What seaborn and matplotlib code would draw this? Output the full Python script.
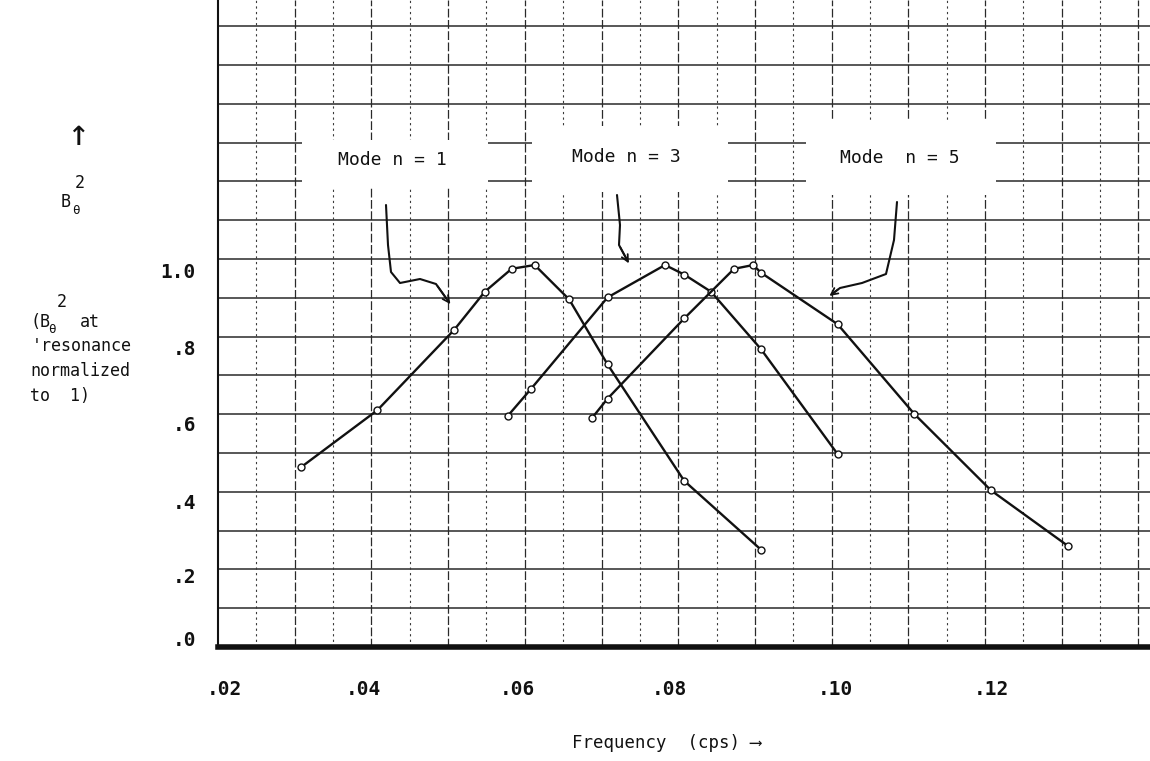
import numpy as np
import pandas as pd
import matplotlib
matplotlib.use("Agg")
import matplotlib.pyplot as plt
import matplotlib.transforms as mtransforms
from matplotlib.patches import Rectangle
import seaborn as sns

# ---------------- data ----------------
mode1_freq = [0.030, 0.040, 0.050, 0.054, 0.0575, 0.0605, 0.065, 0.070, 0.080, 0.090]
mode1_amp = [0.47, 0.62, 0.83, 0.93, 0.99, 1.00, 0.91, 0.74, 0.435, 0.255]
mode3_freq = [0.0570, 0.060, 0.070, 0.0775, 0.080, 0.0835, 0.090, 0.100]
mode3_amp = [0.605, 0.675, 0.915, 1.00, 0.975, 0.93, 0.78, 0.505]
mode5_freq = [0.068, 0.070, 0.080, 0.0865, 0.089, 0.090, 0.100, 0.110, 0.120, 0.130]
mode5_amp = [0.60, 0.65, 0.86, 0.99, 1.00, 0.98, 0.845, 0.61, 0.41, 0.265]

mode_labels = ["Mode n = 1", "Mode n = 3", "Mode  n = 5"]
x_ticks = [0.02, 0.04, 0.06, 0.08, 0.10, 0.12]
x_tick_labels = [".02", ".04", ".06", ".08", ".10", ".12"]
y_ticks = [0.0, 0.2, 0.4, 0.6, 0.8, 1.0]
y_tick_labels = [".0", ".2", ".4", ".6", ".8", "1.0"]

df = pd.concat([
    pd.DataFrame({"freq": mode1_freq, "amp": mode1_amp, "mode": "n=1"}),
    pd.DataFrame({"freq": mode3_freq, "amp": mode3_amp, "mode": "n=3"}),
    pd.DataFrame({"freq": mode5_freq, "amp": mode5_amp, "mode": "n=5"}),
])

sns.set_theme(style="white")
FONT = ["DejaVu Sans Mono", "DejaVu Sans"]
plt.rcParams["font.family"] = FONT
INK = "#111111"

W, H = 1150, 761
AX_L, AX_B = 218, 647          # pixel position of the axes corner
PX_X = 7670                    # pixels per unit frequency
PX_Y = 382                     # pixels per unit amplitude

fig = plt.figure(figsize=(W / 100, H / 100), dpi=100)
fig.patch.set_facecolor("white")
ax = fig.add_axes([AX_L / W, 1 - AX_B / H, (W - AX_L) / W, AX_B / H])
ax.set_facecolor("white")
x_lo = 0.02 + (AX_L - 224) / PX_X
x_hi = 0.02 + (W - 224) / PX_X
ax.set_xlim(x_lo, x_hi)
ax.set_ylim(0, AX_B / PX_Y)

FT = fig.transFigure


def fx(x):
    return x / W


def fy(y):
    return 1 - y / H


# ---------------- graph paper ----------------
gy = np.arange(0, AX_B / PX_Y, 38.8 / PX_Y)
for y in gy[1:]:
    ax.axhline(y, color="#2a2a2a", lw=1.1, zorder=0.5)
gx = np.arange(x_lo, x_hi, 0.005)
for i, x in enumerate(gx[1:], start=1):
    if i % 2 == 0:
        ax.axvline(x, color="#2a2a2a", lw=0.9, ls=(0, (7, 2)), zorder=0.5)
    else:
        ax.axvline(x, color="#3a3a3a", lw=0.8, ls=(0, (2, 3)), zorder=0.5)

# white label boxes (no grid under the typed labels)
for (x0, y0, x1, y1) in [(302, 140, 488, 188), (532, 126, 728, 192), (806, 120, 996, 195)]:
    ax.add_patch(Rectangle((fx(x0), fy(y1)), fx(x1) - fx(x0), fy(y0) - fy(y1),
                           transform=FT, facecolor="white", edgecolor="none", zorder=1))

# ---------------- curves ----------------
sns.lineplot(data=df, x="freq", y="amp", hue="mode", units="mode", estimator=None,
             sort=False, palette=[INK] * 3, linewidth=1.7, marker="o",
             markersize=5, markerfacecolor="white", markeredgecolor=INK,
             markeredgewidth=1.0, legend=False, ax=ax, zorder=3)

# ---------------- mode labels & arrows ----------------
for lab, (x, y) in zip(mode_labels, [(392, 160), (626, 157), (900, 158)]):
    fig.text(fx(x), fy(y), lab, ha="center", va="center", fontsize=13, color=INK, zorder=5)

arrows = [
    [(386, 205), (388, 245), (391, 272), (400, 283), (420, 279), (436, 284), (446, 298)],
    [(617, 195), (620, 225), (619, 245), (626, 258)],
    [(897, 202), (894, 240), (886, 274), (862, 283), (840, 288), (832, 294)],
]
for pts in arrows:
    xs = [fx(p[0]) for p in pts]
    ys = [fy(p[1]) for p in pts]
    ax.plot(xs, ys, transform=FT, color=INK, lw=1.5, zorder=4, clip_on=False)
    ax.annotate("", xy=(xs[-1] + (xs[-1] - xs[-2]) * 0.6, ys[-1] + (ys[-1] - ys[-2]) * 0.6),
                xytext=(xs[-2], ys[-2]), xycoords=FT, textcoords=FT,
                arrowprops=dict(arrowstyle="->", color=INK, lw=1.3), zorder=4)

# ---------------- axes styling ----------------
for s in ["top", "right"]:
    ax.spines[s].set_visible(False)
ax.spines["bottom"].set_linewidth(4)
ax.spines["bottom"].set_color(INK)
ax.spines["left"].set_linewidth(1.5)
ax.spines["left"].set_color(INK)

ax.set_xticks(x_ticks)
ax.set_xticklabels(x_tick_labels, fontsize=14, fontweight="bold", color=INK)
ax.set_yticks(y_ticks)
ax.set_yticklabels(y_tick_labels, fontsize=14, fontweight="bold", color=INK)
ax.tick_params(axis="x", length=0, pad=24)
ax.tick_params(axis="y", length=0, pad=16)
ax.set_xlabel("")
ax.set_ylabel("")
ax.grid(False)

# typed labels sit slightly off the true tick positions in the original
x_shift = [0, -14, -13, -15, -2, 0]
for lab, dx in zip(ax.get_xticklabels(), x_shift):
    lab.set_transform(lab.get_transform() + mtransforms.ScaledTranslation(dx / 100, 0, fig.dpi_scale_trans))
y_shift = [9, -5, -7, -6, -6, -6]
for lab, dy in zip(ax.get_yticklabels(), y_shift):
    lab.set_transform(lab.get_transform() + mtransforms.ScaledTranslation(0, dy / 100, fig.dpi_scale_trans))

fig.text(fx(572), fy(743), "Frequency  (cps) \u27f6", ha="left", va="center", fontsize=12.5, color=INK)

# y-axis label block
fig.text(fx(78), fy(135), "\u2191", ha="center", va="center", fontsize=26, color=INK)
fig.text(fx(80), fy(183), "2", ha="center", va="center", fontsize=12, color=INK)
fig.text(fx(66), fy(202), "B", ha="center", va="center", fontsize=12, color=INK)
fig.text(fx(76), fy(210), "\u03b8", ha="center", va="center", fontsize=9, color=INK)
fig.text(fx(62), fy(302), "2", ha="center", va="center", fontsize=12, color=INK)
fig.text(fx(30), fy(322), "(B", ha="left", va="center", fontsize=12, color=INK)
fig.text(fx(52), fy(330), "\u03b8", ha="center", va="center", fontsize=9, color=INK)
fig.text(fx(80), fy(322), "at", ha="left", va="center", fontsize=12, color=INK)
fig.text(fx(32), fy(346), "'resonance", ha="left", va="center", fontsize=12, color=INK)
fig.text(fx(30), fy(371), "normalized", ha="left", va="center", fontsize=12, color=INK)
fig.text(fx(30), fy(396), "to  1)", ha="left", va="center", fontsize=12, color=INK)

fig.savefig("out.png", dpi=100, facecolor="white")
